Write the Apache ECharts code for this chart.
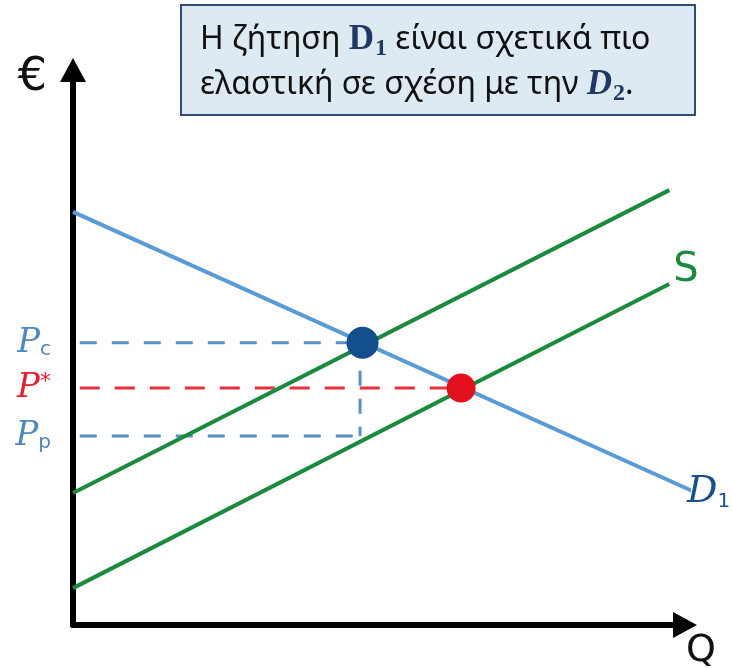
<!DOCTYPE html>
<html>
<head>
<meta charset="utf-8">
<script src="https://cdn.jsdelivr.net/npm/echarts@6/dist/echarts.min.js"></script>
<style>
  html, body { margin: 0; padding: 0; background: #fff; }
  #chart { width: 732px; height: 668px; }
</style>
</head>
<body>
<div id="chart"></div>
<script>
// curves as [Q, P] end points (axes 0..100)
const demand = [[0, 73.9], [101.3, 23.6]]
const supplyHigh = [[0, 23.6], [96.8, 77.8]]
const supplyLow = [[0, 6.6], [96.8, 61.0]]

// equilibrium points
const priceC = 50.5
const priceStar = 42.4
const priceP = 33.8
const qC = 46.6
const qStar = 63.0
const dashStart = 1.1

const priceTicks = [priceP, priceStar, priceC]
const priceTickText = ['{b|P}{bs|p}', '{r|P}{rs|*}', '{b|P}{bs|c}']

const blueDash = '#5b8ec1'
const green = '#1c8a3c'

const chart = echarts.init(document.getElementById('chart'), null, { renderer: 'canvas' })

function dashed (data, color, dash) {
  return {
    type: 'line',
    data: data,
    symbol: 'none',
    silent: true,
    clip: false,
    z: 1,
    lineStyle: { color: color, width: 3, type: dash }
  }
}

chart.setOption({
  animation: false,
  grid: { left: 73, right: 43, top: 66, bottom: 43, outerBoundsMode: 'none', containLabel: false },
  xAxis: {
    type: 'value',
    min: 0,
    max: 100,
    name: 'Q',
    nameLocation: 'end',
    nameGap: -3,
    nameTextStyle: {
      color: '#111',
      fontSize: 38,
      fontFamily: 'DejaVu Sans',
      verticalAlign: 'top',
      padding: [7, 0, 0, 0]
    },
    axisLine: {
      lineStyle: { color: '#000', width: 6, cap: 'round' },
      symbol: ['none', 'triangle'],
      symbolSize: [26, 24],
      symbolOffset: [0, -4]
    },
    axisTick: { show: false },
    axisLabel: { show: false },
    splitLine: { show: false }
  },
  yAxis: {
    type: 'value',
    min: 0,
    max: 100,
    name: '€',
    nameLocation: 'end',
    nameGap: -12,
    nameTextStyle: {
      color: '#111',
      fontSize: 46,
      fontFamily: 'DejaVu Sans',
      align: 'right',
      verticalAlign: 'middle',
      padding: [0, 26, 0, 0]
    },
    axisLine: {
      lineStyle: { color: '#000', width: 6, cap: 'round' },
      symbol: ['none', 'triangle'],
      symbolSize: [26, 24],
      symbolOffset: [0, -4]
    },
    axisTick: { show: false },
    splitLine: { show: false },
    axisLabel: {
      show: true,
      customValues: priceTicks,
      margin: 22,
      formatter: function (v) {
        for (let i = 0; i < priceTicks.length; i++) {
          if (Math.abs(priceTicks[i] - v) < 0.01) return priceTickText[i]
        }
        return ''
      },
      rich: {
        b: { color: '#4f88bb', fontSize: 34, fontFamily: 'DejaVu Serif', fontStyle: 'italic' },
        bs: { color: '#4f88bb', fontSize: 20, fontFamily: 'DejaVu Sans', verticalAlign: 'bottom', padding: [0, 0, 0, 0] },
        r: { color: '#e5202e', fontSize: 34, fontFamily: 'DejaVu Serif', fontStyle: 'italic' },
        rs: { color: '#e5202e', fontSize: 22, fontFamily: 'DejaVu Sans', verticalAlign: 'top' }
      }
    }
  },
  series: [
    dashed([[dashStart, priceC], [qC, priceC]], blueDash, [17, 15]),
    dashed([[dashStart, priceP], [qC, priceP]], blueDash, [17, 15]),
    dashed([[qC, priceC], [qC, priceP]], blueDash, [15, 13]),
    dashed([[dashStart, priceStar], [qStar, priceStar]], '#e8303a', [20, 15]),
    {
      type: 'line',
      data: supplyHigh,
      symbol: 'none',
      silent: true,
      clip: false,
      z: 2,
      lineStyle: { color: green, width: 4 }
    },
    {
      type: 'line',
      data: supplyLow,
      symbol: 'none',
      silent: true,
      clip: false,
      z: 2,
      lineStyle: { color: green, width: 4 },
      endLabel: {
        show: true,
        formatter: 'S',
        color: green,
        fontSize: 40,
        fontFamily: 'DejaVu Sans',
        distance: 4,
        offset: [0, -13]
      }
    },
    {
      type: 'line',
      data: demand,
      symbol: 'none',
      silent: true,
      clip: false,
      z: 3,
      lineStyle: { color: '#5b9bd5', width: 4 },
      endLabel: {
        show: true,
        formatter: '{d|D}{ds|1}',
        distance: -4,
        offset: [0, 2],
        rich: {
          d: { color: '#1b4f8a', fontSize: 38, fontFamily: 'DejaVu Serif', fontStyle: 'italic' },
          ds: { color: '#1b4f8a', fontSize: 20, fontFamily: 'DejaVu Sans', verticalAlign: 'bottom' }
        }
      }
    },
    {
      type: 'scatter',
      data: [[qC + 0.4, priceC]],
      symbolSize: 32,
      silent: true,
      z: 5,
      itemStyle: { color: '#124f8c', opacity: 1 }
    },
    {
      type: 'scatter',
      data: [[qStar, priceStar]],
      symbolSize: 29,
      silent: true,
      z: 5,
      itemStyle: { color: '#e3101e', opacity: 1 }
    }
  ],
  graphic: [
    {
      type: 'rect',
      shape: { x: 181, y: 5, width: 514, height: 110 },
      style: { fill: '#deeaf1', stroke: '#2f4b7c', lineWidth: 2 },
      z: 10
    },
    {
      type: 'text',
      x: 200,
      y: 17,
      z: 11,
      style: {
        text: '{t|Η ζήτηση }{d|D}{ds|1}{t| είναι σχετικά πιο}\n{t|ελαστική σε σχέση με την }{di|D}{dis|2}{t|.}',
        verticalAlign: 'top',
        rich: {
          t: { fill: '#111', fontSize: 32, fontFamily: 'Noto Sans', lineHeight: 45 },
          d: { fill: '#1f3864', fontSize: 35, fontFamily: 'Liberation Serif', fontWeight: 'bold', lineHeight: 45 },
          ds: { fill: '#1f3864', fontSize: 24, fontFamily: 'Liberation Serif', fontWeight: 'bold', verticalAlign: 'bottom', padding: [0, 0, 1, 1] },
          di: { fill: '#1f3864', fontSize: 35, fontFamily: 'Liberation Serif', fontWeight: 'bold', fontStyle: 'italic', lineHeight: 45 },
          dis: { fill: '#1f3864', fontSize: 24, fontFamily: 'Liberation Serif', fontWeight: 'bold', verticalAlign: 'bottom', padding: [0, 0, 1, 1] }
        }
      }
    }
  ]
})
</script>
</body>
</html>
